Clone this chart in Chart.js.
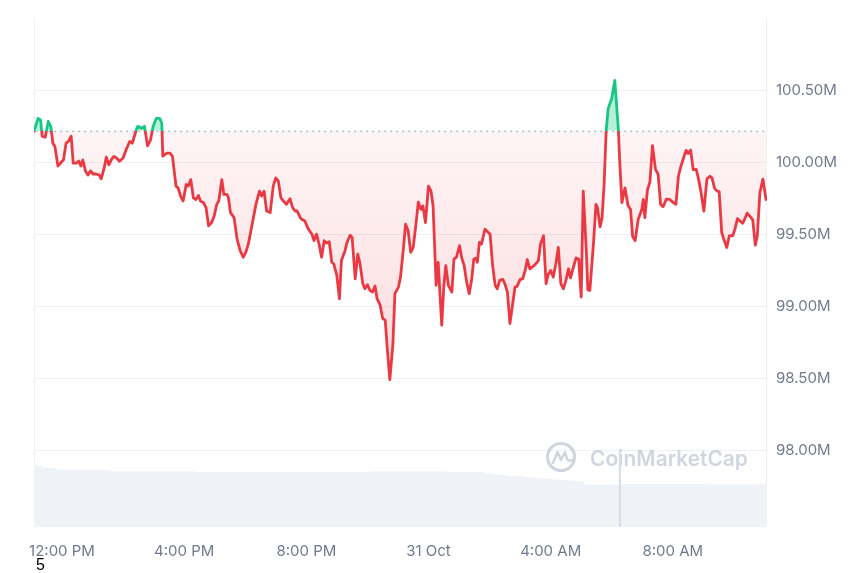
<!DOCTYPE html>
<html>
<head>
<meta charset="utf-8">
<script src="https://cdn.jsdelivr.net/npm/chart.js@4.4.1/dist/chart.umd.min.js"></script>
<style>
  html, body { margin: 0; padding: 0; background: #fff; }
  #wrap { position: relative; width: 860px; height: 573px; }
  #note { position: absolute; left: 36px; top: 556px; font: 16px 'Liberation Sans', Arial, sans-serif; line-height: 18px; color: #000; }
</style>
</head>
<body>
<div id="wrap">
  <canvas id="chart" width="860" height="573"></canvas>
  <div id="note">5</div>
</div>
<script>
// minutes since 11:05 AM, 30 Oct
const times = [
  0, 8, 13, 16, 22, 28, 33, 37, 41, 47, 54, 58, 63, 68, 73, 77, 83, 88, 92, 96,
  101, 106, 111, 116, 122, 128, 132, 138, 142, 147, 152, 157, 162, 168, 175, 181, 188, 193, 196, 201,
  204, 211, 217, 223, 229, 234, 240, 247, 251, 253,
  261, 267, 272, 279, 283, 288, 293, 299, 303, 308, 313, 318, 323, 327, 333, 338, 343, 349, 354, 359,
  363, 369, 373, 379, 382, 386, 393, 399, 405, 411, 416, 421, 428, 436, 443, 447, 452, 457, 464, 470,
  475, 480, 485, 490, 496, 503, 508, 513, 517, 523,
  526, 532, 539, 546, 550, 555, 560, 565, 570, 575, 580, 585, 589, 595, 600, 604, 611, 615, 621, 625,
  631, 636, 640, 646, 650, 655, 660, 665, 670, 674, 680, 685, 690, 694, 699, 705, 709, 716, 720, 725,
  730, 735, 740, 745, 750, 755, 760, 764, 769, 775,
  780, 784, 790, 794, 801, 805, 809, 814, 821, 825, 830, 836, 840, 845, 850, 855, 860, 864, 868, 871,
  875, 879, 886, 891, 896, 901, 906, 910, 915, 921, 925, 930, 935, 940, 945, 949, 955, 960, 965, 969,
  974, 980, 984, 991, 995, 1001, 1006, 1010, 1015, 1020,
  1025, 1030, 1035, 1040, 1045, 1050, 1054, 1060, 1065, 1070, 1075, 1079, 1085, 1088, 1092, 1099, 1104, 1107, 1112, 1116,
  1120, 1124, 1128, 1135, 1141, 1148, 1151, 1155, 1161, 1167, 1172, 1176, 1181, 1187, 1194, 1197, 1200, 1205, 1210, 1215,
  1221, 1226, 1231, 1236, 1242, 1249, 1256, 1261, 1266, 1270,
  1276, 1281, 1285, 1290, 1295, 1301, 1305, 1310, 1316, 1322, 1328, 1332, 1337, 1342, 1346, 1351, 1355, 1361, 1366, 1373,
  1377, 1382, 1387, 1392, 1396, 1401, 1407, 1412, 1417, 1421, 1426, 1432, 1438
];

// market cap in millions USD
const prices = [
  100.214, 100.303, 100.291, 100.179, 100.172, 100.282, 100.248, 100.131, 100.110, 99.972,
  100.000, 100.016, 100.131, 100.145, 100.179, 99.993, 99.993, 100.007, 99.972, 100.014,
  99.938, 99.910, 99.938, 99.917, 99.917, 99.910, 99.883, 99.959, 100.034, 99.981,
  100.016, 100.039, 100.028, 100.005, 100.028, 100.085, 100.143, 100.131, 100.165, 100.223,
  100.248, 100.234, 100.248, 100.112, 100.154, 100.246, 100.303, 100.303, 100.269, 100.041,
  100.062, 100.062, 100.039, 99.833, 99.821, 99.764, 99.729, 99.844, 99.833, 99.878,
  99.752, 99.740, 99.768, 99.729, 99.718, 99.683, 99.557, 99.580, 99.626, 99.706,
  99.729, 99.878, 99.775, 99.775, 99.752, 99.649, 99.614, 99.465, 99.385, 99.339,
  99.373, 99.430, 99.557, 99.706, 99.798, 99.764, 99.798, 99.660, 99.649, 99.833,
  99.890, 99.867, 99.752, 99.729, 99.706, 99.745, 99.683, 99.660, 99.660, 99.614,
  99.602, 99.591, 99.534, 99.499, 99.454, 99.499, 99.430, 99.339, 99.454, 99.437,
  99.447, 99.304, 99.292, 99.212, 99.051, 99.316, 99.385, 99.442, 99.492, 99.476,
  99.189, 99.361, 99.304, 99.155, 99.120, 99.148, 99.109, 99.097, 99.139, 99.051,
  99.006, 98.913, 98.902, 98.707, 98.489, 98.730, 99.086, 99.132, 99.201, 99.373,
  99.568, 99.523, 99.373, 99.407, 99.557, 99.722, 99.671, 99.695, 99.580, 99.833,
  99.798, 99.695, 99.144, 99.304, 98.868, 99.132, 99.281, 99.144, 99.097, 99.327,
  99.339, 99.419, 99.339, 99.281, 99.166, 99.086, 99.189, 99.327, 99.332, 99.304,
  99.442, 99.430, 99.534, 99.516, 99.499, 99.281, 99.144, 99.120, 99.178, 99.185,
  99.155, 99.097, 98.879, 99.006, 99.132, 99.137, 99.185, 99.189, 99.247, 99.323,
  99.258, 99.274, 99.286, 99.316, 99.430, 99.488, 99.155, 99.217, 99.247, 99.201,
  99.290, 99.407, 99.155, 99.120, 99.178, 99.258, 99.196, 99.274, 99.334, 99.327,
  99.063, 99.798, 99.385, 99.113, 99.109, 99.430, 99.706, 99.683, 99.550, 99.614,
  99.844, 100.212, 100.372, 100.441, 100.567, 100.223, 99.981, 99.718, 99.821, 99.697,
  99.671, 99.483, 99.454, 99.602, 99.671, 99.740, 99.614, 99.804, 99.862, 100.114,
  99.947, 99.917, 99.706, 99.690, 99.742, 99.740, 99.718, 99.706, 99.901, 99.959,
  100.028, 100.081, 100.059, 100.083, 99.947, 99.948, 99.890, 99.798, 99.660, 99.883,
  99.901, 99.890, 99.817, 99.798, 99.795, 99.511, 99.465, 99.407, 99.488, 99.490,
  99.534, 99.607, 99.591, 99.575, 99.602, 99.645, 99.621, 99.598, 99.423, 99.488,
  99.786, 99.881, 99.740
];

// 15 minute volume buckets (billions)
const volumeStep = 15;
const volumes = [
  1.20, 1.16, 1.15, 1.12, 1.12, 1.12, 1.11, 1.12, 1.12, 1.11,
  1.09, 1.09, 1.09, 1.09, 1.09, 1.09, 1.09, 1.09, 1.09, 1.09, 1.09,
  1.07, 1.07, 1.07, 1.07, 1.07, 1.07, 1.07, 1.07, 1.07, 1.07, 1.07, 1.07,
  1.07, 1.07, 1.07, 1.07, 1.07, 1.07, 1.07, 1.07, 1.07, 1.07, 1.07,
  1.09, 1.09, 1.09, 1.09, 1.09, 1.09, 1.09, 1.09, 1.09, 1.09,
  1.07, 1.07, 1.07, 1.07, 1.07,
  1.05, 1.03, 1.02, 1.00, 0.99, 0.97,
  0.965, 0.95, 0.94, 0.925, 0.915, 0.905, 0.895,
  0.82, 0.82, 0.82, 0.82, 0.82,
  0.84, 0.84, 0.84, 0.84, 0.84, 0.84, 0.84, 0.84, 0.84, 0.84, 0.84,
  0.83, 0.83, 0.83, 0.83, 0.83, 0.83, 0.83, 0.83
];
const spikeTimes = [1151];
const spikeVolumes = [1.50];

const baseline = 100.218;
const xTickValues = [55, 295, 535, 775, 1015, 1255];
const xTickLabels = ['12:00 PM', '4:00 PM', '8:00 PM', '31 Oct', '4:00 AM', '8:00 AM'];
const yTickValues = [98, 98.5, 99, 99.5, 100, 100.5];

const RED = '#ea3943';
const GREEN = '#16c784';
const AXIS_TEXT = '#6f7a8f';
const GRID = '#eef0f3';

function splitStroke(context) {
  const chart = context.chart;
  const { ctx, chartArea, scales } = chart;
  if (!chartArea) return RED;
  const y = scales.y.getPixelForValue(baseline);
  let stop = (y - chartArea.top) / (chartArea.bottom - chartArea.top);
  stop = Math.min(Math.max(stop, 0), 1);
  const g = ctx.createLinearGradient(0, chartArea.top, 0, chartArea.bottom);
  g.addColorStop(0, GREEN);
  g.addColorStop(stop, GREEN);
  g.addColorStop(stop, RED);
  g.addColorStop(1, RED);
  return g;
}

function belowFill(context) {
  const chart = context.chart;
  const { ctx, chartArea, scales } = chart;
  if (!chartArea) return 'rgba(234,57,67,0.06)';
  const y0 = scales.y.getPixelForValue(baseline);
  const y1 = scales.y.getPixelForValue(98.5);
  const g = ctx.createLinearGradient(0, y0, 0, y1);
  g.addColorStop(0, 'rgba(234,57,67,0.05)');
  g.addColorStop(1, 'rgba(234,57,67,0.18)');
  return g;
}

const frameAndBaseline = {
  id: 'frameAndBaseline',
  beforeDatasetsDraw(chart) {
    const { ctx, chartArea, scales } = chart;
    ctx.save();
    // side borders
    ctx.strokeStyle = GRID;
    ctx.lineWidth = 1;
    ctx.beginPath();
    ctx.moveTo(chartArea.left + 0.5, chartArea.top);
    ctx.lineTo(chartArea.left + 0.5, chartArea.bottom);
    ctx.moveTo(chartArea.right - 0.5, chartArea.top);
    ctx.lineTo(chartArea.right - 0.5, chartArea.bottom);
    ctx.stroke();

    // watermark
    const cx = chartArea.right - 206;
    const cy = chartArea.bottom - 70;
    ctx.strokeStyle = 'rgba(170,180,198,0.55)';
    ctx.fillStyle = 'rgba(170,180,198,0.55)';
    ctx.lineWidth = 3.2;
    ctx.lineCap = 'round';
    ctx.lineJoin = 'round';
    ctx.beginPath();
    ctx.arc(cx, cy, 13.5, 0, Math.PI * 2);
    ctx.stroke();
    ctx.lineWidth = 2.6;
    ctx.beginPath();
    ctx.moveTo(cx - 8, cy + 6);
    ctx.lineTo(cx - 3.5, cy - 5);
    ctx.lineTo(cx, cy + 3);
    ctx.lineTo(cx + 4, cy - 5);
    ctx.lineTo(cx + 6, cy + 2);
    ctx.quadraticCurveTo(cx + 8, cy + 5, cx + 11, cy + 3);
    ctx.stroke();
    ctx.font = '600 20px Inter';
    const w = ctx.measureText('CoinMarketCap').width;
    const size = 20 * 158 / w;
    ctx.font = '600 ' + size.toFixed(1) + 'px Inter';
    ctx.textBaseline = 'alphabetic';
    ctx.fillText('CoinMarketCap', cx + 29, cy + 9);

    // opening price reference
    const y = Math.round(scales.y.getPixelForValue(baseline)) + 0.5;
    ctx.strokeStyle = '#a8b0bf';
    ctx.lineWidth = 1.3;
    ctx.lineCap = 'round';
    ctx.setLineDash([0.5, 5.5]);
    ctx.beginPath();
    ctx.moveTo(chartArea.left + 3, y);
    ctx.lineTo(chartArea.right, y);
    ctx.stroke();
    ctx.restore();
  }
};

const ctx = document.getElementById('chart').getContext('2d');
new Chart(ctx, {
  type: 'line',
  data: {
    datasets: [
      {
        label: 'Market Cap',
        data: times.map((t, i) => ({ x: t, y: prices[i] })),
        yAxisID: 'y',
        borderColor: splitStroke,
        backgroundColor: belowFill,
        borderWidth: 2.8,
        borderJoinStyle: 'round',
        borderCapStyle: 'round',
        pointRadius: 0,
        tension: 0,
        fill: { target: { value: baseline }, above: 'rgba(22,199,132,0.3)' },
        order: 0
      },
      {
        type: 'bar',
        label: 'Volume',
        data: volumes.map((v, i) => ({ x: i * volumeStep + volumeStep / 2, y: v })),
        yAxisID: 'y2',
        backgroundColor: '#eff2f6',
        barThickness: 7.2,
        grouped: false,
        order: 2
      },
      {
        type: 'bar',
        label: 'Volume spike',
        data: spikeTimes.map((t, i) => ({ x: t, y: spikeVolumes[i] })),
        yAxisID: 'y2',
        backgroundColor: '#d9dee6',
        barThickness: 1.5,
        grouped: false,
        order: 1
      }
    ]
  },
  options: {
    responsive: false,
    animation: false,
    layout: { padding: { left: 34, top: 14, right: 0, bottom: 0 } },
    plugins: { legend: { display: false }, tooltip: { enabled: false } },
    scales: {
      x: {
        type: 'linear',
        min: 0,
        max: 1440,
        offset: false,
        grid: { display: false, drawTicks: false },
        border: { display: false },
        afterBuildTicks: (scale) => { scale.ticks = xTickValues.map(v => ({ value: v })); },
        afterFit: (scale) => { scale.height = 46; },
        ticks: {
          autoSkip: false,
          maxRotation: 0,
          padding: 15,
          color: AXIS_TEXT,
          font: { family: 'Inter', size: 15 },
          callback: (v) => xTickLabels[xTickValues.indexOf(v)]
        }
      },
      y: {
        position: 'right',
        min: 97.466,
        max: 101.0,
        grid: { color: GRID, lineWidth: 1, drawTicks: false },
        border: { display: false },
        afterBuildTicks: (scale) => { scale.ticks = yTickValues.map(v => ({ value: v })); },
        afterFit: (scale) => { scale.width = 93; },
        ticks: {
          padding: 9,
          color: AXIS_TEXT,
          font: { family: 'Inter', size: 15 },
          callback: (v) => v.toFixed(2) + 'M'
        }
      },
      y2: {
        display: false,
        min: 0,
        max: 10
      }
    }
  },
  plugins: [frameAndBaseline]
});
</script>
</body>
</html>
